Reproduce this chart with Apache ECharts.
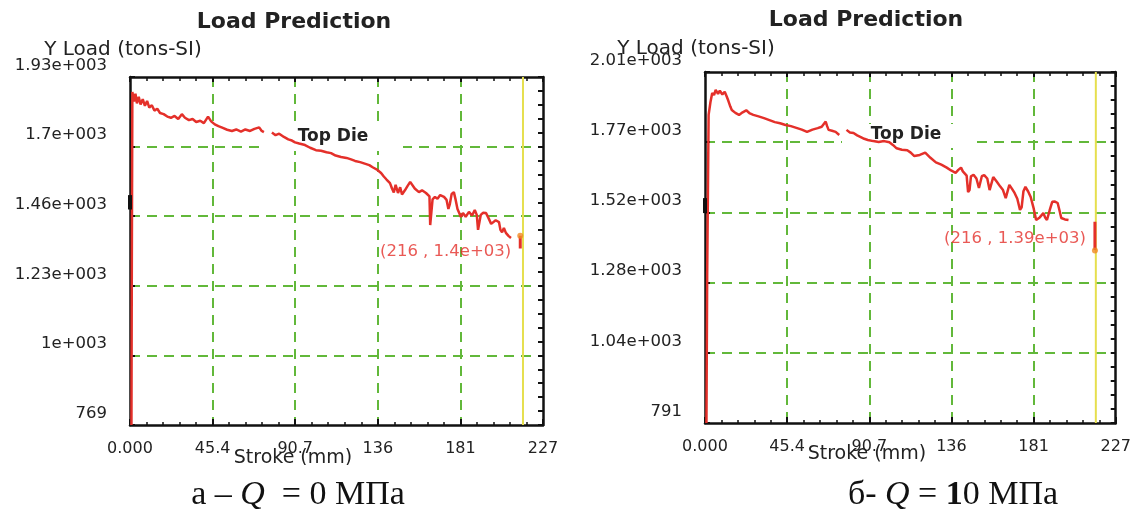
<!DOCTYPE html>
<html><head><meta charset="utf-8">
<script src="https://cdn.jsdelivr.net/npm/echarts@6/dist/echarts.min.js"></script>
<style>html,body{margin:0;padding:0;background:#fff}#c{width:1134px;height:513px}</style>
</head><body><div id="c"></div>
<script>
// ---------- data ----------
const xTickValues = [0, 45.4, 90.8, 136.2, 181.6, 227];
const xTickLabels = ['0.000', '45.4', '90.7', '136', '181', '227'];

const leftYTicks = [769, 1001.2, 1233.4, 1465.6, 1697.8, 1930];
const leftYLabels = ['769', '1e+003', '1.23e+003', '1.46e+003', '1.7e+003', '1.93e+003'];
const rightYTicks = [791, 1034.8, 1278.6, 1522.4, 1766.2, 2010];
const rightYLabels = ['791', '1.04e+003', '1.28e+003', '1.52e+003', '1.77e+003', '2.01e+003'];

// Top Die load vs stroke, Q = 0 MPa
const leftLoad = [
[0.8,769],[1.0,1300],[1.3,1880],[2.2,1848],[3.0,1874],[3.8,1842],[4.8,1864],[5.8,1838],[7.0,1856],[8.2,1834],[9.4,1850],[10.6,1828],[12.0,1836],[13.4,1818],[15.0,1824],[16.5,1810],[18.5,1806],[20.5,1798],[22.5,1794],[24.5,1800],[26.5,1790],[28.5,1806],[30.2,1794],[32.4,1786],[34.4,1790],[36.4,1780],[38.6,1784],[40.6,1776],[42.9,1798],[44.6,1782],[46.6,1772],[48.6,1766],[51.0,1760],[53.4,1754],[56.0,1750],[58.4,1755],[61.0,1748],[63.4,1755],[66.0,1750],[68.4,1757],[71.0,1762],[72.4,1750],[73.6,1746],[75.5,null],[78.0,1745],[80.0,1736],[82.0,1741],[84.6,1730],[87.0,1722],[89.0,1718],[90.7,1712],[93.0,1708],[96.2,1703],[99.0,1694],[102.2,1686],[105.0,1684],[108.0,1679],[110.5,1676],[113.0,1668],[116.0,1663],[119.0,1660],[121.5,1655],[123.7,1650],[126.5,1646],[129.0,1641],[131.5,1636],[133.6,1628],[136.0,1620],[138.0,1610],[139.5,1598],[141.0,1588],[142.9,1576],[144.0,1558],[145.0,1545],[146.0,1570],[147.3,1543],[148.5,1562],[149.5,1538],[151.1,1552],[152.5,1566],[154.0,1580],[155.0,1574],[156.5,1558],[158.8,1546],[160.5,1552],[162.7,1543],[164.6,1532],[165.0,1436],[165.8,1436],[166.3,1522],[167.6,1530],[169.0,1524],[170.5,1536],[172.6,1530],[174.0,1520],[175.0,1490],[175.8,1506],[176.8,1540],[178.0,1546],[179.0,1520],[180.0,1490],[181.9,1463],[183.0,1476],[184.5,1464],[186.3,1480],[188.0,1468],[189.5,1486],[190.6,1470],[191.3,1420],[192.0,1420],[192.8,1470],[194.0,1477],[195.7,1476],[197.0,1460],[198.5,1440],[199.5,1445],[201.0,1452],[202.8,1446],[203.6,1420],[204.5,1412],[205.5,1426],[206.6,1410],[208.0,1400],[209.4,1393]
];
// Top Die load vs stroke, Q = 10 MPa
const rightLoad = [
[0.8,791],[1.2,1300],[2.0,1861],[3.0,1905],[4.0,1937],[5.0,1930],[5.9,1948],[7.2,1934],[8.2,1945],[9.6,1932],[10.9,1941],[12.0,1925],[12.9,1910],[14.0,1890],[14.8,1878],[16.8,1868],[18.8,1861],[20.8,1870],[22.8,1877],[24.8,1866],[26.7,1861],[29.6,1856],[32.6,1850],[35.6,1843],[38.6,1836],[41.5,1832],[44.5,1826],[47.5,1822],[50.5,1816],[53.5,1810],[56.4,1802],[59.4,1810],[62.3,1815],[64.5,1820],[66.7,1838],[67.5,1822],[68.3,1809],[70.2,1806],[72.2,1802],[74.2,1791],[76.0,null],[78.2,1809],[80.1,1800],[82.1,1798],[84.1,1790],[86.1,1784],[88.0,1778],[90.0,1774],[93.0,1770],[96.0,1767],[99.0,1770],[101.9,1766],[104.0,1756],[105.9,1745],[108.8,1740],[111.8,1738],[113.7,1730],[115.7,1718],[118.7,1722],[121.7,1730],[124.6,1712],[127.6,1696],[130.6,1688],[133.6,1678],[136.0,1668],[138.5,1660],[140.0,1670],[141.5,1678],[142.5,1665],[143.4,1659],[144.6,1650],[145.4,1593],[146.2,1600],[147.0,1648],[148.4,1653],[150.0,1640],[151.4,1607],[152.2,1612],[153.0,1648],[154.3,1652],[156.0,1640],[157.3,1600],[158.2,1606],[159.3,1645],[161.2,1630],[163.2,1612],[164.7,1600],[166.2,1572],[167.0,1578],[168.2,1618],[169.6,1605],[171.1,1590],[172.6,1570],[174.1,1531],[175.0,1540],[176.0,1596],[177.1,1611],[178.6,1595],[180.0,1576],[181.5,1540],[183.0,1496],[185.0,1505],[187.0,1520],[188.0,1505],[189.0,1496],[190.5,1530],[191.9,1559],[193.4,1560],[194.9,1555],[195.9,1530],[196.9,1503],[198.9,1498],[200.9,1496]
];

const endStroke = 216;                 // yellow step line
const leftEndMark = [[214.5, 1400], [214.5, 1358]];
const rightEndMark = [[215.5, 1392], [215.5, 1490]];
const leftEndPoint = [[214.5, 1400]];
const rightEndPoint = [[215.5, 1390]];
const leftEndLabel = '(216 , 1.4e+03)';
const rightEndLabel = '(216 , 1.39e+03)';
const leftCursor = [[0, 1488], [0, 1536]];
const rightCursor = [[0, 1520], [0, 1572]];

// ---------- styles ----------
const RED = '#e4302a', GREEN = '#62b83a', YELLOW = '#e6df4e', ORANGE = '#f08a24', INK = '#111';
const SANS = '"DejaVu Sans", sans-serif';

function nearestLabel(ticks, labels) {
  return function (v) {
    let best = -1, d = 1e9;
    ticks.forEach((t, i) => { const dd = Math.abs(t - v); if (dd < d) { d = dd; best = i; } });
    return d < 1 ? labels[best] : '';
  };
}
function minorValues(ticks) {
  const out = [];
  for (let i = 0; i < ticks.length - 1; i++) {
    const step = (ticks[i + 1] - ticks[i]) / 5;
    for (let k = 0; k < 5; k++) out.push(ticks[i] + step * k);
  }
  out.push(ticks[ticks.length - 1]);
  return out;
}

function xAxes(gridIndex, nameGap) {
  return [{
    type: 'value', gridIndex, position: 'bottom', min: 0, max: 227, interval: 45.4,
    axisLine: { show: true, onZero: false, lineStyle: { color: INK, width: 2.5 } },
    axisTick: { show: true, inside: true, length: 6, lineStyle: { color: INK, width: 2 } },
    minorTick: { show: true, splitNumber: 5, length: 3, lineStyle: { color: INK, width: 1.5 } },
    axisLabel: { show: true, margin: 16, fontSize: 16, fontFamily: SANS, color: '#222',
      showMinLabel: true, showMaxLabel: true, formatter: nearestLabel(xTickValues, xTickLabels) },
    splitLine: { show: true, showMinLine: false, showMaxLine: false, lineStyle: { color: GREEN, type: [10, 7], width: 2 } },
    name: 'Stroke (mm)', nameLocation: 'middle', nameGap, nameMoveOverlap: false,
    nameTextStyle: { fontSize: 19, fontFamily: SANS, color: '#222', padding: [0, 87, 0, 0] }
  }, {
    type: 'value', gridIndex, position: 'top', min: 0, max: 227, interval: 45.4,
    axisLine: { show: true, onZero: false, lineStyle: { color: INK, width: 2.5 } },
    axisTick: { show: true, inside: true, length: 5, lineStyle: { color: INK, width: 2 } },
    minorTick: { show: true, splitNumber: 5, length: 4, lineStyle: { color: INK, width: 1.5 } },
    axisLabel: { show: false }, splitLine: { show: false }
  }];
}
function yAxes(gridIndex, ticks, labels, nameGap, namePad) {
  return [{
    type: 'value', gridIndex, position: 'left', min: ticks[0], max: ticks[ticks.length - 1],
    axisLine: { show: true, onZero: false, lineStyle: { color: INK, width: 2.5 } },
    axisTick: { show: true, inside: true, length: 5, customValues: ticks, lineStyle: { color: INK, width: 2 } },
    axisLabel: { show: true, customValues: ticks, formatter: nearestLabel(ticks, labels), margin: 23,
      verticalAlign: 'bottom', padding: [0, 0, 3, 0], fontSize: 16.5, fontFamily: SANS, color: '#222' },
    splitLine: { show: true, showMinLine: false, showMaxLine: false, lineStyle: { color: GREEN, type: [10, 7], width: 2 } },
    name: 'Y Load (tons-SI)', nameLocation: 'end', nameGap, nameMoveOverlap: false,
    nameTextStyle: { fontSize: 20, fontFamily: SANS, color: '#222', padding: [0, namePad, 0, 0] }
  }, {
    type: 'value', gridIndex, position: 'right', min: ticks[0], max: ticks[ticks.length - 1],
    axisLine: { show: true, onZero: false, lineStyle: { color: INK, width: 2.5 } },
    axisTick: { show: true, inside: true, length: 5, customValues: minorValues(ticks), lineStyle: { color: INK, width: 2 } },
    axisLabel: { show: false }, splitLine: { show: false }
  }];
}

function chartSeries(xi, yi, load, ticks, endMark, endPoint, endLabel, labelOffset, cursor) {
  return [
    { type: 'line', xAxisIndex: xi, yAxisIndex: yi, data: [[endStroke, ticks[0]], [endStroke, ticks[ticks.length - 1]]],
      symbol: 'none', lineStyle: { color: YELLOW, width: 2 }, z: 2, silent: true },
    { type: 'line', xAxisIndex: xi, yAxisIndex: yi, data: load, symbol: 'none', connectNulls: false,
      lineStyle: { color: RED, width: 2.5 }, z: 3 },
    { type: 'line', xAxisIndex: xi, yAxisIndex: yi, data: endMark, symbol: 'none', lineStyle: { color: RED, width: 3 }, z: 4 },
    { type: 'scatter', xAxisIndex: xi, yAxisIndex: yi, data: endPoint, symbol: 'circle', symbolSize: 6,
      itemStyle: { color: ORANGE }, z: 5,
      label: { show: true, position: 'left', distance: 6, offset: labelOffset, formatter: endLabel,
        color: RED, fontSize: 16.5, fontFamily: SANS } },
    { type: 'line', xAxisIndex: xi, yAxisIndex: yi, data: cursor, symbol: 'none', clip: false,
      lineStyle: { color: INK, width: 4 }, z: 6 }
  ];
}

const option = {
  backgroundColor: '#fff',
  animation: false,
  grid: [
    { left: 130, top: 77, width: 413, height: 348 },
    { left: 705, top: 72, width: 413, height: 351 }
  ],
  xAxis: [...xAxes(0, 24), ...xAxes(1, 22)],
  yAxis: [...yAxes(0, leftYTicks, leftYLabels, 17, 14), ...yAxes(1, rightYTicks, rightYLabels, 13, 18)],
  series: [
    ...chartSeries(0, 0, leftLoad, leftYTicks, leftEndMark, leftEndPoint, leftEndLabel, [0, 16], leftCursor),
    ...chartSeries(2, 2, rightLoad, rightYTicks, rightEndMark, rightEndPoint, rightEndLabel, [0, -12], rightCursor)
  ],
  graphic: [
    { type: 'text', x: 294, y: 22, z: 10, style: { text: 'Load Prediction', font: 'bold 22px "DejaVu Sans"', fill: '#222', align: 'center', verticalAlign: 'middle' } },
    { type: 'text', x: 866, y: 20, z: 10, style: { text: 'Load Prediction', font: 'bold 22px "DejaVu Sans"', fill: '#222', align: 'center', verticalAlign: 'middle' } },
    { type: 'rect', z: 1, shape: { x: 266, y: 127, width: 137, height: 24 }, style: { fill: '#fff' } },
    { type: 'rect', z: 1, shape: { x: 842, y: 124, width: 135, height: 24 }, style: { fill: '#fff' } },
    { type: 'text', x: 333, y: 137, z: 10, style: { text: 'Top Die', font: 'bold 17px "DejaVu Sans"', fill: '#222', align: 'center', verticalAlign: 'middle' } },
    { type: 'text', x: 906, y: 135, z: 10, style: { text: 'Top Die', font: 'bold 17px "DejaVu Sans"', fill: '#222', align: 'center', verticalAlign: 'middle' } },
    { type: 'rect', z: 50, shape: { x: 200, y: 465, width: 200, height: 48 }, style: { fill: '#fff' } },
    { type: 'text', x: 298, y: 495, z: 60, style: {
        text: '{n|а – }{i|Q}{n|  = 0 МПа}', align: 'center', verticalAlign: 'middle',
        rich: { n: { fontFamily: '"Liberation Serif", serif', fontSize: 34, fill: '#111' },
                i: { fontFamily: '"Liberation Serif", serif', fontSize: 34, fontStyle: 'italic', fill: '#111' } } } },
    { type: 'text', x: 953, y: 495, z: 60, style: {
        text: '{n|б- }{i|Q}{n| = }{b|1}{n|0 МПа}', align: 'center', verticalAlign: 'middle',
        rich: { n: { fontFamily: '"Liberation Serif", serif', fontSize: 34, fill: '#111' },
                i: { fontFamily: '"Liberation Serif", serif', fontSize: 34, fontStyle: 'italic', fill: '#111' },
                b: { fontFamily: '"Liberation Serif", serif', fontSize: 34, fontWeight: 'bold', fill: '#111' } } } }
  ]
};
const chart = echarts.init(document.getElementById('c'), null, { renderer: 'canvas' });
chart.setOption(option);
</script></body></html>
